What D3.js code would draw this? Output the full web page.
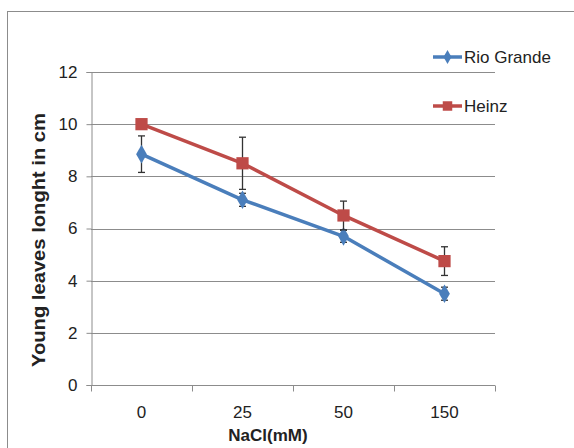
<!DOCTYPE html>
<html lang="en">
<head>
    <meta charset="UTF-8">
    <title>Young leaves length vs NaCl</title>
    <script src="https://d3js.org/d3.v7.min.js"></script>
    <style>
        body { margin: 0; background: #fff; }
        svg { display: block; }
        .tick text { font-family: "Liberation Sans Narrow", "Liberation Sans", Arial, sans-serif; }
    </style>
</head>
<body>
    <svg id="chart" width="574" height="448"></svg>
  <script>
    'use strict';

// data
const categories = ['0', '25', '50', '150'];
const yTicks = [0, 2, 4, 6, 8, 10, 12];
const rioGrande = [8.85, 7.1, 5.7, 3.5];
const rioGrandeErr = [0.7, 0.25, 0.23, 0.25];
const heinz = [10.0, 8.5, 6.5, 4.75];
const heinzErr = [0.1, 1.0, 0.55, 0.55];

const series = [
    { name: 'Rio Grande', values: rioGrande, err: rioGrandeErr, color: '#4A7EBB', marker: 'diamond' },
    { name: 'Heinz', values: heinz, err: heinzErr, color: '#BE4B48', marker: 'square' }
];

const svg = d3.select('#chart');
const margin = { left: 91, top: 72, right: 79, bottom: 63 };
const width = 574 - margin.left - margin.right;
const height = 448 - margin.top - margin.bottom;

// outer chart frame (extends past the right/bottom edge)
svg.append('rect')
    .attr('x', 7.5).attr('y', 11.5)
    .attr('width', 600).attr('height', 500)
    .attr('fill', 'none').attr('stroke', '#8c8c8c').attr('stroke-width', 1);

const g = svg.append('g').attr('transform', `translate(${margin.left},${margin.top})`);

const x = d3.scaleBand().domain(categories).range([0, width]);
const y = d3.scaleLinear().domain([0, 12]).range([height, 0]);

// gridlines
g.append('g')
    .selectAll('line')
    .data(yTicks.filter(d => d > 0))
    .enter().append('line')
    .attr('x1', 0).attr('x2', width)
    .attr('y1', d => Math.round(y(d)) + 0.5).attr('y2', d => Math.round(y(d)) + 0.5)
    .attr('stroke', '#8c8c8c');

// y axis
const yAxis = g.append('g')
    .attr('transform', 'translate(0.5,0)')
    .call(d3.axisLeft(y).tickValues(yTicks).tickSize(5).tickPadding(9).tickFormat(d3.format('d')));
yAxis.selectAll('text').attr('font-size', 17).attr('fill', '#222');

// x axis with ticks between categories
const xAxis = g.append('g').attr('transform', `translate(0,${Math.round(height) + 0.5})`);
xAxis.append('line').attr('x1', 0).attr('x2', width).attr('stroke', '#8c8c8c');
xAxis.selectAll('line.sep')
    .data(d3.range(categories.length + 1))
    .enter().append('line')
    .attr('class', 'sep')
    .attr('x1', i => Math.round(i * x.step()) + 0.5).attr('x2', i => Math.round(i * x.step()) + 0.5)
    .attr('y1', 0).attr('y2', 6)
    .attr('stroke', '#8c8c8c');
xAxis.selectAll('text')
    .data(categories)
    .enter().append('text')
    .attr('class', 'tick')
    .attr('x', d => x(d) + x.bandwidth() / 2)
    .attr('y', 32)
    .attr('text-anchor', 'middle')
    .attr('font-family', '"Liberation Sans Narrow", "Liberation Sans", Arial, sans-serif')
    .attr('font-size', 17)
    .attr('fill', '#222')
    .text(d => d);

yAxis.select('.domain').attr('stroke', '#8c8c8c');
yAxis.selectAll('.tick line').attr('stroke', '#8c8c8c');

const cx = d => x(d) + x.bandwidth() / 2;

series.forEach(s => {
    const pts = categories.map((c, i) => ({ c, v: s.values[i], e: s.err[i] }));

    // line
    g.append('path')
        .datum(pts)
        .attr('fill', 'none')
        .attr('stroke', s.color)
        .attr('stroke-width', 3.5)
        .attr('stroke-linejoin', 'round')
        .attr('d', d3.line().x(d => cx(d.c)).y(d => y(d.v)));

    // error bars
    const eb = g.append('g').attr('stroke', '#333').attr('stroke-width', 1.3);
    pts.forEach(d => {
        const px = cx(d.c);
        eb.append('line').attr('x1', px).attr('x2', px).attr('y1', y(d.v + d.e)).attr('y2', y(d.v - d.e));
        eb.append('line').attr('x1', px - 3.5).attr('x2', px + 3.5).attr('y1', y(d.v + d.e)).attr('y2', y(d.v + d.e));
        eb.append('line').attr('x1', px - 3.5).attr('x2', px + 3.5).attr('y1', y(d.v - d.e)).attr('y2', y(d.v - d.e));
    });

    // markers
    const sym = s.marker === 'square' ? d3.symbolSquare : d3.symbolDiamond;
    const size = s.marker === 'square' ? 150 : 100;
    g.append('g').selectAll('path')
        .data(pts)
        .enter().append('path')
        .attr('transform', d => `translate(${cx(d.c)},${y(d.v)})`)
        .attr('d', d3.symbol().type(sym).size(size))
        .attr('fill', s.color);
});

// axis titles
svg.append('text')
    .attr('x', 268)
    .attr('y', 441)
    .attr('text-anchor', 'middle')
    .attr('font-family', '"Liberation Sans Narrow", "Liberation Sans", Arial, sans-serif')
    .attr('font-weight', 'bold')
    .attr('font-size', 17)
    .attr('fill', '#222')
    .text('NaCl(mM)');

svg.append('text')
    .attr('transform', 'translate(45,240) rotate(-90)')
    .attr('text-anchor', 'middle')
    .attr('font-family', '"Liberation Sans", Arial, sans-serif')
    .attr('font-weight', 'bold')
    .attr('font-size', 19)
    .attr('textLength', 254)
    .attr('lengthAdjust', 'spacingAndGlyphs')
    .attr('fill', '#222')
    .text('Young leaves longht in cm');

// legend
const legend = svg.append('g').attr('transform', 'translate(433,57)');
series.forEach((s, i) => {
    const row = legend.append('g').attr('transform', `translate(0,${i * 49})`);
    row.append('line').attr('x1', 0).attr('x2', 29).attr('stroke', s.color).attr('stroke-width', 3.5);
    row.append('path')
        .attr('transform', 'translate(14.5,0)')
        .attr('d', d3.symbol().type(s.marker === 'square' ? d3.symbolSquare : d3.symbolDiamond).size(s.marker === 'square' ? 90 : 55))
        .attr('fill', s.color);
    row.append('text')
        .attr('x', 31).attr('y', 6)
        .attr('font-family', '"Liberation Sans Narrow", "Liberation Sans", Arial, sans-serif')
        .attr('font-size', 17)
        .attr('fill', '#222')
        .text(s.name);
});
  </script>
</body>
</html>
